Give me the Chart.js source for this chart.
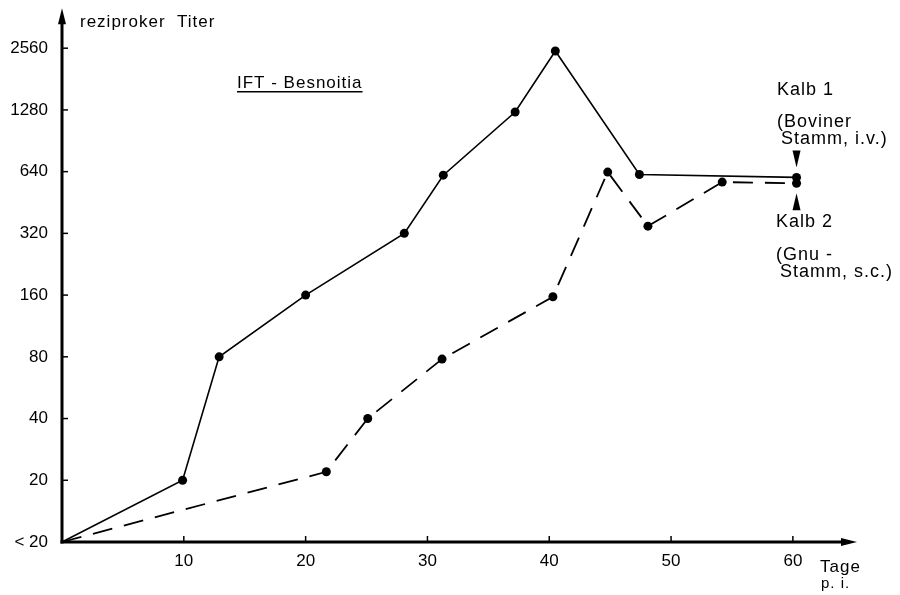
<!DOCTYPE html>
<html>
<head>
<meta charset="utf-8">
<script src="https://cdn.jsdelivr.net/npm/chart.js@4.4.1/dist/chart.umd.min.js"></script>
<style>
html,body{margin:0;padding:0;background:#fff;}
#wrap{width:900px;height:595px;position:relative;}
</style>
</head>
<body>
<div id="wrap"><canvas id="c" width="900" height="595"></canvas></div>
<script>
// ---- data ----
const kalb1Days   = [0, 9.9, 12.9, 20.0, 28.1, 31.3, 37.2, 40.5, 47.4, 60.3];
const kalb1Titer  = [10, 20, 80, 160, 320, 615, 1250, 2480, 620, 600];
const kalb2Days   = [0, 21.7, 25.1, 31.2, 40.3, 44.8, 48.1, 54.2, 60.3];
const kalb2Titer  = [10, 22, 40, 78, 157, 637, 347, 569, 562];
const yTickValues = [10, 20, 40, 80, 160, 320, 640, 1280, 2560];
const yTickLabels = ['< 20', '20', '40', '80', '160', '320', '640', '1280', '2560'];
const xTickValues = [10, 20, 30, 40, 50, 60];

const FONT = '"Liberation Sans", Arial, Helvetica, sans-serif';

function pts(xs, ys){ return xs.map((x,i)=>({x:x, y:ys[i]})); }

const decor = {
  id:'decor',
  beforeDatasetsDraw(chart){
    const ctx = chart.ctx, a = chart.chartArea;
    const xs = chart.scales.x, ys = chart.scales.y;
    const x0 = xs.getPixelForValue(0), y0 = ys.getPixelForValue(10);
    ctx.save();
    ctx.strokeStyle = '#000'; ctx.fillStyle = '#000';
    ctx.lineWidth = 3; ctx.lineCap = 'butt';
    // y axis
    ctx.beginPath(); ctx.moveTo(x0, y0+1.5); ctx.lineTo(x0, a.top+12); ctx.stroke();
    ctx.beginPath(); ctx.moveTo(x0, a.top-2); ctx.lineTo(x0-4, a.top+14); ctx.lineTo(x0+4, a.top+14); ctx.closePath(); ctx.fill();
    // x axis
    ctx.beginPath(); ctx.moveTo(x0-1.5, y0); ctx.lineTo(a.right-12, y0); ctx.stroke();
    ctx.beginPath(); ctx.moveTo(a.right+2, y0); ctx.lineTo(a.right-14, y0-4); ctx.lineTo(a.right-14, y0+4); ctx.closePath(); ctx.fill();
    // inner tick marks
    ctx.lineWidth = 1.5;
    yTickValues.slice(1).forEach(v=>{
      const p = ys.getPixelForValue(v);
      ctx.beginPath(); ctx.moveTo(x0, p); ctx.lineTo(x0+6, p); ctx.stroke();
    });
    xTickValues.forEach(v=>{
      const p = xs.getPixelForValue(v);
      ctx.beginPath(); ctx.moveTo(p, y0); ctx.lineTo(p, y0-6); ctx.stroke();
    });
    ctx.restore();
  },
  afterDatasetsDraw(chart){
    const ctx = chart.ctx;
    const xs = chart.scales.x, ys = chart.scales.y;
    ctx.save();
    ctx.fillStyle = '#000';
    ctx.textBaseline = 'middle'; ctx.textAlign = 'left';
    try { ctx.letterSpacing = '1px'; } catch(e){}
    ctx.font = '17px ' + FONT;
    ctx.fillText('reziproker  Titer', 80, 22);
    ctx.fillText('IFT - Besnoitia', 237, 83);
    const w = ctx.measureText('IFT - Besnoitia').width;
    ctx.fillRect(237, 91, w, 1.5);
    ctx.font = '18px ' + FONT;
    ctx.fillText('Kalb 1', 777, 90);
    ctx.fillText('(Boviner', 777, 122);
    ctx.fillText('Stamm, i.v.)', 781, 139);
    ctx.fillText('Kalb 2', 776, 222);
    ctx.fillText('(Gnu -', 776, 255);
    ctx.fillText('Stamm, s.c.)', 780, 272);
    ctx.font = '17px ' + FONT;
    ctx.fillText('Tage', 820, 567);
    ctx.font = '15px ' + FONT;
    ctx.fillText('p. i.', 821, 584);
    // pointer arrows to the last points
    const ex = xs.getPixelForValue(kalb1Days[kalb1Days.length-1]);
    const e1 = ys.getPixelForValue(kalb1Titer[kalb1Titer.length-1]);
    const e2 = ys.getPixelForValue(kalb2Titer[kalb2Titer.length-1]);
    ctx.beginPath(); ctx.moveTo(ex-4, e1-27); ctx.lineTo(ex+4, e1-27); ctx.lineTo(ex, e1-10); ctx.closePath(); ctx.fill();
    ctx.beginPath(); ctx.moveTo(ex-4, e2+27); ctx.lineTo(ex+4, e2+27); ctx.lineTo(ex, e2+10); ctx.closePath(); ctx.fill();
    ctx.restore();
  }
};

new Chart(document.getElementById('c'), {
  type:'line',
  data:{
    datasets:[
      {label:'Kalb 1 (Boviner Stamm, i.v.)', data:pts(kalb1Days, kalb1Titer),
       borderColor:'#000', backgroundColor:'#000', borderWidth:1.6,
       pointRadius:[0,4.5,4.5,4.5,4.5,4.5,4.5,4.5,4.5,4.5], pointBorderWidth:0,
       tension:0, clip:false},
      {label:'Kalb 2 (Gnu-Stamm, s.c.)', data:pts(kalb2Days, kalb2Titer),
       borderColor:'#000', backgroundColor:'#000', borderWidth:1.8, borderDash:[20,12],
       pointRadius:[0,4.5,4.5,4.5,4.5,4.5,4.5,4.5,4.5], pointBorderWidth:0,
       tension:0, clip:false}
    ]
  },
  options:{
    responsive:false, animation:false,
    layout:{autoPadding:false, padding:{top:10,right:45,left:0,bottom:0}},
    plugins:{legend:{display:false}, tooltip:{enabled:false}},
    scales:{
      x:{type:'linear', min:0, max:65.1,
         grid:{display:false, drawTicks:false}, border:{display:false},
         afterBuildTicks(s){ s.ticks = xTickValues.map(v=>({value:v})); },
         afterFit(s){ s.height = 53; },
         ticks:{color:'#000', padding:9, maxRotation:0, font:{family:FONT, size:17}}},
      y:{type:'logarithmic', min:10, max:3922,
         grid:{display:true, drawOnChartArea:false, drawTicks:true, tickLength:14, color:'rgba(0,0,0,0)'},
         border:{display:false},
         afterBuildTicks(s){ s.ticks = yTickValues.map(v=>({value:v})); },
         afterFit(s){ s.width = 62; },
         ticks:{color:'#000', padding:0, font:{family:FONT, size:17},
           callback(v){ const i = yTickValues.indexOf(v); return i>=0 ? yTickLabels[i] : ''; }}}
    }
  },
  plugins:[decor]
});
</script>
</body>
</html>
